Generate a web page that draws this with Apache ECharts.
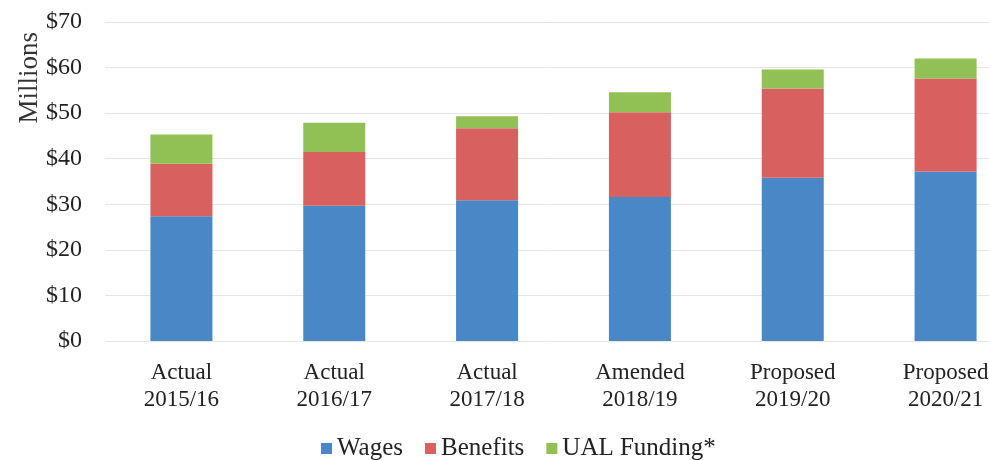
<!DOCTYPE html>
<html><head><meta charset="utf-8">
<script src="https://cdn.jsdelivr.net/npm/echarts@6/dist/echarts.min.js"></script>
<style>html,body{margin:0;padding:0;background:#fff}#c{width:989px;height:460px}</style>
</head><body><div id="c"></div>
<script>
const categories = ['Actual\n2015/16','Actual\n2016/17','Actual\n2017/18','Amended\n2018/19','Proposed\n2019/20','Proposed\n2020/21'];
const wages = [27.4, 29.7, 30.9, 31.6, 35.8, 37.2];
const benefits = [11.5, 11.8, 15.8, 18.6, 19.6, 20.4];
const ualFunding = [6.4, 6.4, 2.6, 4.4, 4.2, 4.4];
const yTicks = [0,10,20,30,40,50,60,70];

const font = '"Liberation Serif", "DejaVu Serif", serif';
const chart = echarts.init(document.getElementById('c'));
chart.setOption({
  animation: false,
  backgroundColor: '#fff',
  textStyle: { fontFamily: font, color: '#222' },
  grid: { left: 105, width: 917, top: 22, bottom: 119, containLabel: false, outerBoundsMode: 'none' },
  legend: {
    bottom: -6, left: 316, itemWidth: 11, itemHeight: 11, itemGap: 22,
    icon: 'rect',
    textStyle: { fontFamily: font, fontSize: 25, color: '#222' },
    data: ['Wages','Benefits','UAL Funding*']
  },
  xAxis: {
    type: 'category', data: categories,
    axisLine: { show: false }, axisTick: { show: false },
    axisLabel: { fontFamily: font, fontSize: 23, color: '#222', lineHeight: 27, margin: 18, interval: 0 }
  },
  yAxis: {
    type: 'value', min: yTicks[0], max: yTicks[yTicks.length-1], interval: 10,
    axisLine: { show: false }, axisTick: { show: false },
    splitLine: { lineStyle: { color: '#e6e6e6', width: 1 } },
    axisLabel: { fontFamily: font, fontSize: 24, color: '#222', margin: 23, formatter: v => '$' + v }
  },
  graphic: [{
    type: 'text', left: 16, top: 32, rotation: Math.PI / 2,
    style: { text: 'Millions', font: '27px ' + font, fill: '#333' }
  }],
  series: [
    { name: 'Wages', type: 'bar', stack: 't', data: wages, barWidth: 62, itemStyle: { color: '#4a87c7' } },
    { name: 'Benefits', type: 'bar', stack: 't', data: benefits, barWidth: 62, itemStyle: { color: '#d8605f' } },
    { name: 'UAL Funding*', type: 'bar', stack: 't', data: ualFunding, barWidth: 62, itemStyle: { color: '#91c055' } }
  ]
});
</script></body></html>
